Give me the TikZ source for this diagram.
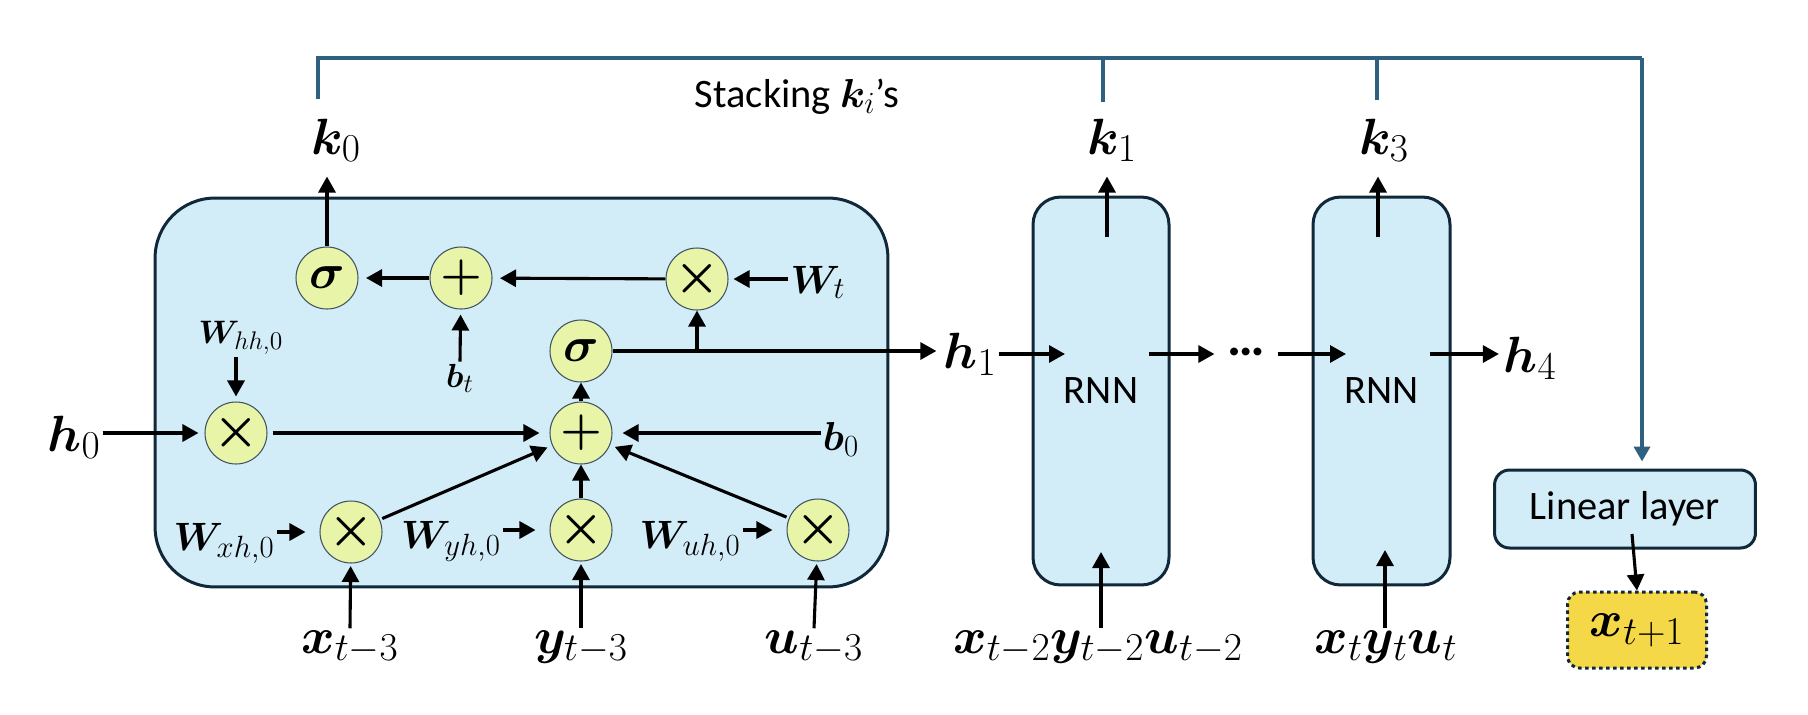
\RequirePackage{fix-cm}
\documentclass[tikz,border=0pt]{standalone}
\usepackage{amsmath}
\usepackage{bm}
\usepackage[no-math]{fontspec}
\setmainfont{Carlito}
\usetikzlibrary{arrows.meta}
\DeclareMathSizes{29}{29}{22.5}{17}
\DeclareMathSizes{22.5}{22.5}{17.5}{13}
\DeclareMathSizes{18.5}{18.5}{14.5}{11}
\DeclareMathSizes{19}{19}{15}{11}
\DeclareMathSizes{23}{23}{17.5}{13}
\definecolor{cellfill}{RGB}{210,236,248}
\definecolor{cellborder}{RGB}{16,40,58}
\definecolor{opfill}{RGB}{232,245,168}
\definecolor{stackcol}{RGB}{47,96,128}
\definecolor{outfill}{RGB}{245,216,72}
\newcommand{\lblbig}{\fontsize{29}{34}\selectfont}
\newcommand{\lblw}{\fontsize{22.5}{27}\selectfont}
\newcommand{\lblws}{\fontsize{18.5}{22}\selectfont}
\newcommand{\txtsz}{\fontsize{23}{28}\selectfont}
\begin{document}
\begin{tikzpicture}[x=0.02cm,y=-0.02cm,
  arr/.style={line width=0.062cm,-{Triangle[length=0.32cm,width=0.34cm]},black},
  op/.style={circle,draw=cellborder!80,line width=0.6pt,fill=opfill,minimum size=1.24cm,inner sep=0pt},
  cellbox/.style={draw=cellborder,line width=0.06cm,fill=cellfill},
  big/.style={anchor=base,inner sep=1pt,font=\lblbig},
  wl/.style={anchor=base,inner sep=1pt,font=\lblw},
  stack/.style={draw=stackcol,line width=0.075cm}]
\useasboundingbox (0,0) rectangle (1808,714);
% containers
\node[cellbox,rounded corners=1.2cm,minimum width=14.66cm,minimum height=7.78cm] (cell) at (521.5,392.5) {};
\node[cellbox,rounded corners=0.55cm,minimum width=2.72cm,minimum height=7.76cm,font=\txtsz] (r1) at (1101,391) {RNN};
\node[cellbox,rounded corners=0.55cm,minimum width=2.74cm,minimum height=7.76cm,font=\txtsz] (r2) at (1381.5,391) {RNN};
\node[cellbox,rounded corners=0.3cm,minimum width=5.22cm,minimum height=1.56cm,font=\txtsz] (lin) at (1625,509) {Linear layer};
\node[draw=cellborder,line width=0.06cm,dash pattern=on 0.07cm off 0.07cm,fill=outfill,rounded corners=0.24cm,minimum width=2.78cm,minimum height=1.52cm,font=\lblbig] (xt1) at (1637,630) {$\bm{x}_{t+1}$};
% operators
\node[op,font=\fontsize{28}{30}\selectfont] (s1) at (327,278) {$\bm{\sigma}$};
\node[op,font=\fontsize{27}{30}\selectfont] (p1) at (461,278) {$\bm{+}$};
\node[op,font=\fontsize{29}{30}\selectfont] (m1) at (697,279) {$\bm{\times}$};
\node[op,font=\fontsize{28}{30}\selectfont] (s2) at (581,351) {$\bm{\sigma}$};
\node[op,font=\fontsize{29}{30}\selectfont] (mh) at (236,433) {$\bm{\times}$};
\node[op,font=\fontsize{27}{30}\selectfont] (p2) at (581,433) {$\bm{+}$};
\node[op,font=\fontsize{29}{30}\selectfont] (mx) at (351,532) {$\bm{\times}$};
\node[op,font=\fontsize{29}{30}\selectfont] (my) at (581,530) {$\bm{\times}$};
\node[op,font=\fontsize{29}{30}\selectfont] (mu) at (818,530) {$\bm{\times}$};
% labels
\node[big] (k0) at (336,154) {$\bm{k}_0$};
\node[big] (k1) at (1112,154) {$\bm{k}_1$};
\node[big] (k3) at (1384,154) {$\bm{k}_3$};
\node[big] (h0) at (74,451) {$\bm{h}_0$};
\node[big] (h1) at (970,368) {$\bm{h}_1$};
\node[big] (h4) at (1530,372) {$\bm{h}_4$};
\node[big] (xl) at (350,653) {$\bm{x}_{t-3}$};
\node[big] (yl) at (581,653) {$\bm{y}_{t-3}$};
\node[big] (ul) at (814,653) {$\bm{u}_{t-3}$};
\node[big] (in1) at (1098,653) {$\bm{x}_{t-2}\bm{y}_{t-2}\bm{u}_{t-2}$};
\node[big] (in2) at (1386,653) {$\bm{x}_{t}\bm{y}_{t}\bm{u}_{t}$};
\node[wl] (Wt) at (818,293) {$\bm{W}_t$};
\node[anchor=base,inner sep=1pt,font=\lblws] (Whh) at (241,343) {$\bm{W}_{hh,0}$};
\node[anchor=base,inner sep=1pt,font=\fontsize{19}{23}\selectfont] (bt) at (460,387) {$\bm{b}_t$};
\node[anchor=base,inner sep=1pt,font=\fontsize{23}{27}\selectfont] (b0) at (841,450) {$\bm{b}_0$};
\node[wl] (Wxh) at (224,550) {$\bm{W}_{xh,0}$};
\node[wl] (Wyh) at (451,548) {$\bm{W}_{yh,0}$};
\node[wl] (Wuh) at (690,548) {$\bm{W}_{uh,0}$};
\node[anchor=base,inner sep=1pt,font=\txtsz] (stk) at (797,107) {Stacking $\bm{k}_i$’s};
\node[inner sep=0pt,font=\fontsize{30}{34}\selectfont\bfseries] (dots) at (1246,352) {…};
% free ends
\coordinate (c0) at (318,99);
\coordinate (c1) at (1103,102);
\coordinate (c3) at (1377,100);
\coordinate (ctop) at (1642,58);
\coordinate (r1in) at (1065,354);
\coordinate (r1out) at (1149,354);
\coordinate (r2in) at (1346,354);
\coordinate (r2out) at (1430,354);
\coordinate (k1src) at (1107,237);
\coordinate (k3src) at (1378,237);
\coordinate (r1bot) at (1101,552);
\coordinate (r2bot) at (1385,550);
\coordinate (linout) at (1632,534);
% stacking line
\draw[stack] (c0) |- (ctop);
\draw[stack] (c1) -- (c1 |- ctop);
\draw[stack] (c3) -- (c3 |- ctop);
\draw[stack,-{Triangle[length=0.3cm,width=0.32cm]},shorten >=0.14cm] (ctop) -- (ctop |- lin.north);
% cell arrows
\draw[arr,shorten >=0.25cm] (s1) -- (s1 |- k0.south);
\draw[arr,shorten >=0.15cm] (p1) -- (s1);
\draw[arr,shorten >=0.15cm] (m1) -- (p1);
\draw[arr,shorten >=0.1cm] (Wt.west |- m1) -- (m1);
\draw[arr,shorten >=0.1cm] (bt.north) -- (p1);
\draw[arr,shorten >=0.1cm] (Whh.south -| mh) -- (mh);
\draw[arr,shorten >=0.12cm] (h0.east |- mh) -- (mh);
\draw[arr,shorten <=0.1cm,shorten >=0.2cm] (mh) -- (p2);
\draw[arr,shorten >=0.2cm] (b0.west |- p2) -- (p2);
\draw[arr,shorten <=0.05cm,shorten >=0.1cm] (mx) -- (p2);
\draw[arr] (my) -- (p2);
\draw[arr,shorten <=0.05cm,shorten >=0.1cm] (mu) -- (p2);
\draw[arr] (p2) -- (s2);
\draw[arr,shorten >=0.28cm] (Wxh.east |- mx) -- (mx);
\draw[arr,shorten >=0.28cm] (Wyh.east |- my) -- (my);
\draw[arr,shorten >=0.28cm] (Wuh.east |- mu) -- (mu);
\draw[arr,shorten >=0.05cm] (xl.north) -- (mx);
\draw[arr,shorten >=0.05cm] (yl.north) -- (my);
\draw[arr,shorten >=0.05cm] (ul.north) -- (mu);
\draw[arr,shorten >=0.1cm] (s2) -- (s2 -| h1.west);
\draw[arr] (s2 -| m1) -- (m1);
% chain
\draw[arr] (h1.east |- r1in) -- (r1in);
\draw[arr,shorten >=0.25cm] (r1out) -- (dots.west |- r1out);
\draw[arr,shorten <=0.25cm] (dots.east |- r2in) -- (r2in);
\draw[arr,shorten >=0.05cm] (r2out) -- (h4.west |- r2out);
\draw[arr,shorten >=0.25cm] (k1src) -- (k1src |- k1.south);
\draw[arr,shorten >=0.25cm] (k3src) -- (k3src |- k3.south);
\draw[arr] (in1.north -| r1bot) -- (r1bot);
\draw[arr] (in2.north -| r2bot) -- (r2bot);
\draw[arr] (linout) -- (xt1.north);
\end{tikzpicture}
\end{document}
